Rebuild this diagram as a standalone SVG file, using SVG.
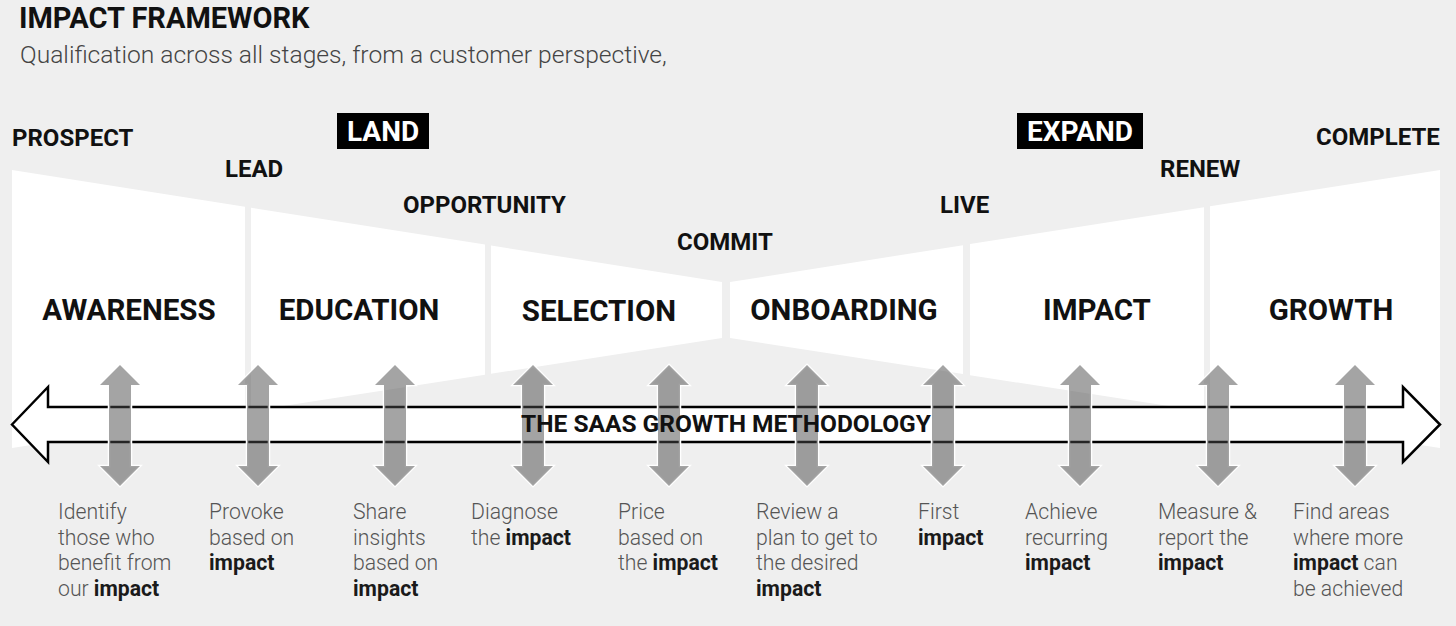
<svg xmlns="http://www.w3.org/2000/svg" width="1456" height="626" viewBox="0 0 1456 626">
<defs>
<style>
.bg{fill:#efefef}
.blk{fill:#ffffff}
.title{font-family:Roboto,"Liberation Sans",sans-serif;font-weight:700;font-size:29px;fill:#111}
.sub{font-family:Roboto,"Liberation Sans",sans-serif;font-weight:300;font-size:24.6px;fill:#444}
.stage{font-family:Roboto,"Liberation Sans",sans-serif;font-weight:700;font-size:24px;fill:#111}
.phase{font-family:Roboto,"Liberation Sans",sans-serif;font-weight:700;font-size:28px;fill:#fff}
.box{fill:#000}
.lbl{font-family:Roboto,"Liberation Sans",sans-serif;font-weight:700;font-size:29.5px;fill:#111;text-anchor:middle}
.desc{font-family:Roboto,"Liberation Sans",sans-serif;font-weight:300;font-size:21.2px;fill:#555}
.desc tspan.b{font-weight:700;fill:#1a1a1a}
.harrow{fill:#fff;stroke:#000;stroke-width:2.5;stroke-linejoin:miter}
.varrow{fill:#4a4a4a;fill-opacity:0.5;stroke:#fff;stroke-width:2.5;paint-order:stroke}
.meth{font-family:Roboto,"Liberation Sans",sans-serif;font-weight:700;font-size:24.5px;fill:#111;text-anchor:middle}
</style>
<path id="va" d="M0,365 L20,385 L11,385 L11,466 L20,466 L0,486 L-20,466 L-11,466 L-11,385 L-20,385 Z"/>
</defs>
<rect class="bg" x="0" y="0" width="1456" height="626"/>

<g id="header">
<text class="title" x="19" y="28">IMPACT FRAMEWORK</text>
<text class="sub" x="20" y="63">Qualification across all stages, from a customer perspective,</text>
</g>

<g id="block-awareness">
<polygon class="blk" points="12,170 245,206.8 245,411.9 12,448"/>
<text class="lbl" x="129" y="320">AWARENESS</text>
</g>
<g id="block-education">
<polygon class="blk" points="251,207.7 485,244.6 485,374.7 251,411"/>
<text class="lbl" x="359" y="320">EDUCATION</text>
</g>
<g id="block-selection">
<polygon class="blk" points="491,245.6 722,282 722,338 491,373.8"/>
<text class="lbl" x="599" y="321">SELECTION</text>
</g>
<g id="block-onboarding">
<polygon class="blk" points="730,282 963,245.2 963,374.1 730,338"/>
<text class="lbl" x="844" y="320">ONBOARDING</text>
</g>
<g id="block-impact">
<polygon class="blk" points="970,244.1 1204,207.2 1204,411.5 970,375.2"/>
<text class="lbl" x="1097" y="320">IMPACT</text>
</g>
<g id="block-growth">
<polygon class="blk" points="1210,206.3 1440,170 1440,448 1210,412.4"/>
<text class="lbl" x="1331" y="320">GROWTH</text>
</g>

<g id="stage-prospect"><text class="stage" x="12" y="146">PROSPECT</text></g>
<g id="stage-lead"><text class="stage" x="225" y="177">LEAD</text></g>
<g id="stage-opportunity"><text class="stage" x="403" y="213">OPPORTUNITY</text></g>
<g id="stage-commit"><text class="stage" x="677" y="250">COMMIT</text></g>
<g id="stage-live"><text class="stage" x="940" y="213">LIVE</text></g>
<g id="stage-renew"><text class="stage" x="1160" y="177">RENEW</text></g>
<g id="stage-complete"><text class="stage" x="1316" y="145">COMPLETE</text></g>
<g id="phase-land">
<rect class="box" x="337" y="113" width="92" height="36"/>
<text class="phase" x="383" y="141" text-anchor="middle">LAND</text>
</g>
<g id="phase-expand">
<rect class="box" x="1017" y="113" width="126" height="36"/>
<text class="phase" x="1080" y="141" text-anchor="middle">EXPAND</text>
</g>

<g id="connectors">
<path class="harrow" d="M12,424.5 L48,387 L48,407 L1403,407 L1403,387 L1440,424.5 L1403,462 L1403,442 L48,442 L48,462 Z"/>
<use href="#va" class="varrow" x="120" y="0"/>
<use href="#va" class="varrow" x="258" y="0"/>
<use href="#va" class="varrow" x="395" y="0"/>
<use href="#va" class="varrow" x="533" y="0"/>
<use href="#va" class="varrow" x="669" y="0"/>
<use href="#va" class="varrow" x="807" y="0"/>
<use href="#va" class="varrow" x="943" y="0"/>
<use href="#va" class="varrow" x="1080" y="0"/>
<use href="#va" class="varrow" x="1218" y="0"/>
<use href="#va" class="varrow" x="1355" y="0"/>
</g>
<g id="methodology">
<text class="meth" x="726" y="432">THE SAAS GROWTH METHODOLOGY</text>
</g>

<g id="desc-1"><text class="desc" x="58" y="519"><tspan x="58">Identify</tspan><tspan x="58" dy="25.5">those who</tspan><tspan x="58" dy="25.5">benefit from</tspan><tspan x="58" dy="25.5">our <tspan class="b">impact</tspan></tspan></text></g>
<g id="desc-2"><text class="desc" x="209" y="519"><tspan x="209">Provoke</tspan><tspan x="209" dy="25.5">based on</tspan><tspan x="209" dy="25.5" class="b">impact</tspan></text></g>
<g id="desc-3"><text class="desc" x="353" y="519"><tspan x="353">Share</tspan><tspan x="353" dy="25.5">insights</tspan><tspan x="353" dy="25.5">based on</tspan><tspan x="353" dy="25.5" class="b">impact</tspan></text></g>
<g id="desc-4"><text class="desc" x="471" y="519"><tspan x="471">Diagnose</tspan><tspan x="471" dy="25.5">the <tspan class="b">impact</tspan></tspan></text></g>
<g id="desc-5"><text class="desc" x="618" y="519"><tspan x="618">Price</tspan><tspan x="618" dy="25.5">based on</tspan><tspan x="618" dy="25.5">the <tspan class="b">impact</tspan></tspan></text></g>
<g id="desc-6"><text class="desc" x="756" y="519"><tspan x="756">Review a</tspan><tspan x="756" dy="25.5">plan to get to</tspan><tspan x="756" dy="25.5">the desired</tspan><tspan x="756" dy="25.5" class="b">impact</tspan></text></g>
<g id="desc-7"><text class="desc" x="918" y="519"><tspan x="918">First</tspan><tspan x="918" dy="25.5" class="b">impact</tspan></text></g>
<g id="desc-8"><text class="desc" x="1025" y="519"><tspan x="1025">Achieve</tspan><tspan x="1025" dy="25.5">recurring</tspan><tspan x="1025" dy="25.5" class="b">impact</tspan></text></g>
<g id="desc-9"><text class="desc" x="1158" y="519"><tspan x="1158">Measure &amp;</tspan><tspan x="1158" dy="25.5">report the</tspan><tspan x="1158" dy="25.5" class="b">impact</tspan></text></g>
<g id="desc-10"><text class="desc" x="1293" y="519"><tspan x="1293">Find areas</tspan><tspan x="1293" dy="25.5">where more</tspan><tspan x="1293" dy="25.5"><tspan class="b">impact</tspan> can</tspan><tspan x="1293" dy="25.5">be achieved</tspan></text></g>
</svg>
